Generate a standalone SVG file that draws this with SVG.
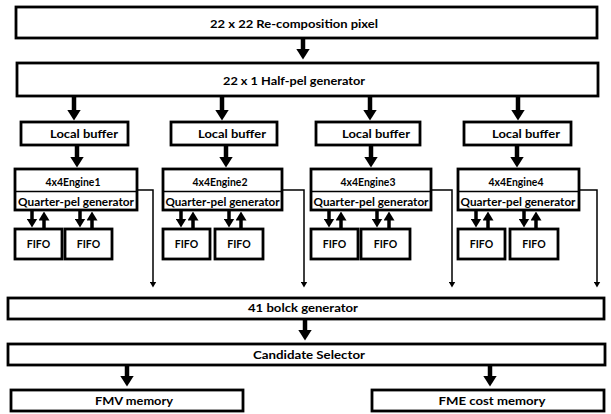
<svg xmlns="http://www.w3.org/2000/svg" width="611" height="414" viewBox="0 0 611 414">
<style>
.box{fill:#fff;stroke:#000;stroke-width:2.8}
.t{font-family:Lato,"Open Sans","Liberation Sans",sans-serif;font-weight:bold;fill:#000;text-anchor:middle;dominant-baseline:central}
.big{font-size:12px}
.sm{font-size:11px}
.fifo{font-size:10.5px}
.thick{stroke:#000;stroke-width:4.5;fill:none}
.mid{stroke:#000;stroke-width:3.5;fill:none}
.thin{stroke:#000;stroke-width:1.5;fill:none}
</style>
<defs>
<marker id="ah" markerUnits="userSpaceOnUse" markerWidth="11" markerHeight="14" viewBox="0 0 11 14" refX="0.5" refY="7" orient="auto"><path d="M0,0 L11,7 L0,14 z" fill="#000"/></marker>
<marker id="ahs" markerUnits="userSpaceOnUse" markerWidth="9" markerHeight="11" viewBox="0 0 9 11" refX="0.5" refY="5.5" orient="auto"><path d="M0,0 L9,5.5 L0,11 z" fill="#000"/></marker>
<marker id="aht" markerUnits="userSpaceOnUse" markerWidth="6" markerHeight="7" viewBox="0 0 6 7" refX="0.5" refY="3.5" orient="auto"><path d="M0,0 L6,3.5 L0,7 z" fill="#000"/></marker>
</defs>

<g id="recomp"><rect class="box" x="16" y="7" width="581" height="31"/><text class="t big" x="294" y="23" textLength="168" lengthAdjust="spacingAndGlyphs">22 x 22 Re-composition pixel</text></g>
<g id="halfpel"><rect class="box" x="17" y="63" width="581" height="33"/><text class="t big" x="294" y="80" textLength="142" lengthAdjust="spacingAndGlyphs">22 x 1 Half-pel generator</text></g>

<g id="lb1"><rect class="box" x="21" y="122" width="107" height="23"/><text class="t sm" x="84" y="133.5" textLength="68" lengthAdjust="spacingAndGlyphs">Local buffer</text></g>
<g id="lb2"><rect class="box" x="171" y="122" width="106" height="23"/><text class="t sm" x="232" y="133.5" textLength="68" lengthAdjust="spacingAndGlyphs">Local buffer</text></g>
<g id="lb3"><rect class="box" x="316" y="122" width="104" height="23"/><text class="t sm" x="376" y="133.5" textLength="68" lengthAdjust="spacingAndGlyphs">Local buffer</text></g>
<g id="lb4"><rect class="box" x="464" y="122" width="107" height="23"/><text class="t sm" x="526" y="133.5" textLength="68" lengthAdjust="spacingAndGlyphs">Local buffer</text></g>

<g id="eng1"><rect class="box" x="15" y="169" width="122" height="41"/><line class="thin" x1="15" y1="191.5" x2="137" y2="191.5" stroke-width="2"/><text class="t sm" x="73" y="181" textLength="55" lengthAdjust="spacingAndGlyphs">4x4Engine1</text><text class="t sm" x="76" y="201" textLength="116" lengthAdjust="spacingAndGlyphs">Quarter-pel generator</text></g>
<g id="eng2"><rect class="box" x="163" y="169" width="119" height="41"/><line class="thin" x1="163" y1="191.5" x2="282" y2="191.5" stroke-width="2"/><text class="t sm" x="220" y="181" textLength="55" lengthAdjust="spacingAndGlyphs">4x4Engine2</text><text class="t sm" x="222.5" y="201" textLength="114" lengthAdjust="spacingAndGlyphs">Quarter-pel generator</text></g>
<g id="eng3"><rect class="box" x="311" y="169" width="120" height="41"/><line class="thin" x1="311" y1="191.5" x2="431" y2="191.5" stroke-width="2"/><text class="t sm" x="368" y="181" textLength="55" lengthAdjust="spacingAndGlyphs">4x4Engine3</text><text class="t sm" x="371" y="201" textLength="115" lengthAdjust="spacingAndGlyphs">Quarter-pel generator</text></g>
<g id="eng4"><rect class="box" x="458" y="169" width="121" height="41"/><line class="thin" x1="458" y1="191.5" x2="579" y2="191.5" stroke-width="2"/><text class="t sm" x="516" y="181" textLength="55" lengthAdjust="spacingAndGlyphs">4x4Engine4</text><text class="t sm" x="518" y="201" textLength="115" lengthAdjust="spacingAndGlyphs">Quarter-pel generator</text></g>

<g id="fifo1"><rect class="box" x="15" y="229" width="47" height="30"/><text class="t fifo" x="38.5" y="244">FIFO</text></g>
<g id="fifo2"><rect class="box" x="65" y="229" width="47" height="30"/><text class="t fifo" x="88.5" y="244">FIFO</text></g>
<g id="fifo3"><rect class="box" x="163" y="229" width="47" height="30"/><text class="t fifo" x="186.5" y="244">FIFO</text></g>
<g id="fifo4"><rect class="box" x="215" y="229" width="48" height="30"/><text class="t fifo" x="239" y="244">FIFO</text></g>
<g id="fifo5"><rect class="box" x="311" y="229" width="47" height="30"/><text class="t fifo" x="334.5" y="244">FIFO</text></g>
<g id="fifo6"><rect class="box" x="361" y="229" width="49" height="30"/><text class="t fifo" x="385.5" y="244">FIFO</text></g>
<g id="fifo7"><rect class="box" x="458" y="229" width="47" height="30"/><text class="t fifo" x="481.5" y="244">FIFO</text></g>
<g id="fifo8"><rect class="box" x="510" y="229" width="48" height="30"/><text class="t fifo" x="534" y="244">FIFO</text></g>

<g id="blockgen"><rect class="box" x="8" y="298" width="596" height="21"/><text class="t big" x="303" y="307.5" textLength="110" lengthAdjust="spacingAndGlyphs">41 bolck generator</text></g>
<g id="candsel"><rect class="box" x="8" y="344" width="597" height="21"/><text class="t big" x="309" y="354" textLength="112" lengthAdjust="spacingAndGlyphs">Candidate Selector</text></g>
<g id="fmv"><rect class="box" x="11" y="390" width="232" height="21"/><text class="t big" x="134" y="400" textLength="78" lengthAdjust="spacingAndGlyphs">FMV memory</text></g>
<g id="fme"><rect class="box" x="372" y="390" width="232" height="21"/><text class="t big" x="492" y="400" textLength="107" lengthAdjust="spacingAndGlyphs">FME cost memory</text></g>

<g id="connectors">
<path class="thick" d="M303,39 V49" marker-end="url(#ah)"/>
<path class="thick" d="M74,97 V110" marker-end="url(#ah)"/>
<path class="thick" d="M222,97 V110" marker-end="url(#ah)"/>
<path class="thick" d="M370,97 V110" marker-end="url(#ah)"/>
<path class="thick" d="M518,97 V110" marker-end="url(#ah)"/>
<path class="thick" d="M77,146 V157" marker-end="url(#ah)"/>
<path class="thick" d="M226,146 V157" marker-end="url(#ah)"/>
<path class="thick" d="M371,146 V157" marker-end="url(#ah)"/>
<path class="thick" d="M517,146 V157" marker-end="url(#ah)"/>

<path class="mid" d="M32,211 V219" marker-end="url(#ahs)"/>
<path class="mid" d="M44,228 V220" marker-end="url(#ahs)"/>
<path class="mid" d="M80,211 V219" marker-end="url(#ahs)"/>
<path class="mid" d="M92,228 V220" marker-end="url(#ahs)"/>
<path class="mid" d="M181,211 V219" marker-end="url(#ahs)"/>
<path class="mid" d="M193,228 V220" marker-end="url(#ahs)"/>
<path class="mid" d="M229,211 V219" marker-end="url(#ahs)"/>
<path class="mid" d="M241,228 V220" marker-end="url(#ahs)"/>
<path class="mid" d="M329,211 V219" marker-end="url(#ahs)"/>
<path class="mid" d="M341,228 V220" marker-end="url(#ahs)"/>
<path class="mid" d="M377,211 V219" marker-end="url(#ahs)"/>
<path class="mid" d="M389,228 V220" marker-end="url(#ahs)"/>
<path class="mid" d="M476,211 V219" marker-end="url(#ahs)"/>
<path class="mid" d="M488,228 V220" marker-end="url(#ahs)"/>
<path class="mid" d="M524,211 V219" marker-end="url(#ahs)"/>
<path class="mid" d="M536,228 V220" marker-end="url(#ahs)"/>

<path class="thin" d="M137,190 H153 V282" marker-end="url(#aht)"/>
<path class="thin" d="M282,190 H304 V282" marker-end="url(#aht)"/>
<path class="thin" d="M431,190 H452 V282" marker-end="url(#aht)"/>
<path class="thin" d="M579,190 H597 V282" marker-end="url(#aht)"/>

<path class="thick" d="M305,320 V330" marker-end="url(#ah)"/>
<path class="thick" d="M127,366 V376" marker-end="url(#ah)"/>
<path class="thick" d="M490,366 V376" marker-end="url(#ah)"/>
</g>
</svg>
